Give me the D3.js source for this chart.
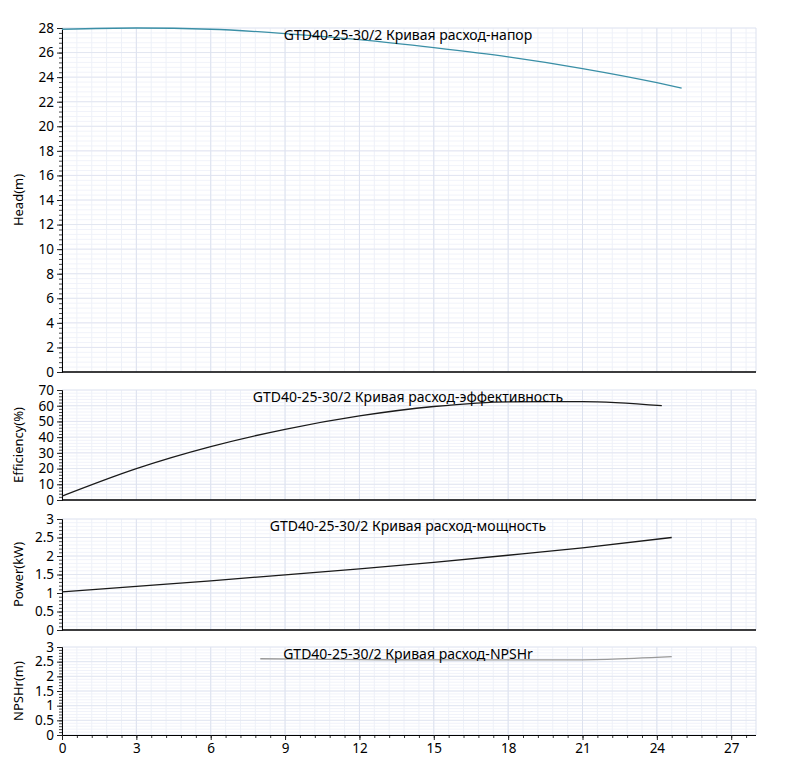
<!DOCTYPE html>
<html>
<head>
<meta charset="utf-8">
<script src="https://cdn.jsdelivr.net/npm/d3@7"></script>
<style>
  body { margin: 0; background: #fff; }
  svg { display: block; font-family: "Noto Sans", "Open Sans", sans-serif; }
</style>
</head>
<body>
<svg id="chart" width="804" height="760"></svg>
<script>
// flow values (m3/h) and curve readings
const headFlow = [0, 3, 6, 9, 12, 15, 18, 21, 24, 25];
const headVals = [27.9, 28.0, 27.9, 27.55, 27.05, 26.4, 25.65, 24.7, 23.55, 23.1];

const effFlow = [0, 3, 6, 9, 12, 15, 18, 21, 24.2];
const effVals = [2.5, 20, 34, 45, 53.5, 59.5, 62.5, 62.6, 60];

const powFlow = [0, 3, 6, 9, 12, 15, 18, 21, 24.6];
const powVals = [1.03, 1.18, 1.33, 1.49, 1.65, 1.83, 2.02, 2.22, 2.5];

const npshFlow = [8, 12, 16, 20, 22, 24.6];
const npshVals = [2.6, 2.57, 2.56, 2.56, 2.58, 2.67];

const xTicks = [0, 3, 6, 9, 12, 15, 18, 21, 24, 27];
const model = "GTD40-25-30/2";

var svg = d3.select("#chart");
var left = 62, right = 756;

var x = d3.scaleLinear().domain([0, 28]).range([left, right]);
var xMinor = d3.range(0, 47).map(i => i * 0.6);

// one entry per stacked panel
var panels = [
  {label: "Head(m)", title: model + " Кривая расход-напор", top: 28, bottom: 372,
   max: 28, step: 2, sub: 5, fmt: d3.format("d"), xs: headFlow, ys: headVals, color: "#3a8fa6"},
  {label: "Efficiency(%)", title: model + " Кривая расход-эффективность", top: 390, bottom: 500,
   max: 70, step: 10, sub: 5, fmt: d3.format("d"), xs: effFlow, ys: effVals, color: "#1a1a1a"},
  {label: "Power(kW)", title: model + " Кривая расход-мощность", top: 519, bottom: 630,
   max: 3, step: 0.5, sub: 5, fmt: d => String(d), xs: powFlow, ys: powVals, color: "#1a1a1a"},
  {label: "NPSHr(m)", title: model + " Кривая расход-NPSHr", top: 647, bottom: 735,
   max: 3, step: 0.5, sub: 5, fmt: d => String(d), xs: npshFlow, ys: npshVals, color: "#999999"}
];

panels.forEach(function(p, idx) {
  var y = d3.scaleLinear().domain([0, p.max]).range([p.bottom, p.top]);
  var major = d3.range(0, p.max + p.step / 2, p.step);
  var n = Math.round(p.max / p.step * p.sub);
  var minor = d3.range(0, n + 1).map(i => i * p.step / p.sub);
  var g = svg.append("g");

  // minor grid
  g.selectAll(".hmin").data(minor).join("line")
    .attr("x1", left).attr("x2", right)
    .attr("y1", d => y(d)).attr("y2", d => y(d))
    .attr("stroke", "#f1f3fa").attr("stroke-width", 1);
  g.selectAll(".vmin").data(xMinor).join("line")
    .attr("x1", d => x(d)).attr("x2", d => x(d))
    .attr("y1", p.top).attr("y2", p.bottom)
    .attr("stroke", "#eef1f8").attr("stroke-width", 1);
  // major grid
  g.selectAll(".hmaj").data(major).join("line")
    .attr("x1", left).attr("x2", right)
    .attr("y1", d => y(d)).attr("y2", d => y(d))
    .attr("stroke", "#e2e6f1").attr("stroke-width", 1);
  g.selectAll(".vmaj").data(xTicks).join("line")
    .attr("x1", d => x(d)).attr("x2", d => x(d))
    .attr("y1", p.top).attr("y2", p.bottom)
    .attr("stroke", "#dde2ef").attr("stroke-width", 1);
  g.append("line")
    .attr("x1", right).attr("x2", right).attr("y1", p.top).attr("y2", p.bottom)
    .attr("stroke", "#dde2ef");

  // left axis: minor ticks then labelled major ticks
  g.append("g").attr("transform", `translate(${left},0)`)
    .call(d3.axisLeft(y).tickValues(minor).tickSize(3).tickFormat(""))
    .call(a => a.select(".domain").remove())
    .call(a => a.selectAll("line").attr("stroke", "#444"));
  g.append("g").attr("transform", `translate(${left},0)`)
    .call(d3.axisLeft(y).tickValues(major).tickSize(5).tickPadding(3).tickFormat(p.fmt))
    .call(a => a.select(".domain").attr("stroke", "#000"))
    .call(a => a.selectAll("line").attr("stroke", "#222"))
    .call(a => a.selectAll("text").attr("font-size", 13.5).attr("fill", "#000")
      .attr("font-family", "'Noto Sans', sans-serif"));

  // bottom line; tick labels only on the last panel
  if (idx === panels.length - 1) {
    g.append("g").attr("transform", `translate(0,${p.bottom})`)
      .call(d3.axisBottom(x).tickValues(xMinor).tickSize(3).tickFormat(""))
      .call(a => a.select(".domain").remove())
      .call(a => a.selectAll("line").attr("stroke", "#333"));
    g.append("g").attr("transform", `translate(0,${p.bottom})`)
      .call(d3.axisBottom(x).tickValues(xTicks).tickSize(5).tickPadding(3).tickFormat(d3.format("d")))
      .call(a => a.select(".domain").attr("stroke", "#000").attr("d", `M${left},0.5H${right}`))
      .call(a => a.selectAll("line").attr("stroke", "#222"))
      .call(a => a.selectAll("text").attr("font-size", 13.5).attr("fill", "#000")
        .attr("font-family", "'Noto Sans', sans-serif"));
  } else {
    g.append("line")
      .attr("x1", left).attr("x2", right).attr("y1", p.bottom).attr("y2", p.bottom)
      .attr("stroke", "#000").attr("stroke-width", 1.5);
  }

  // curve
  var line = d3.line().x(d => x(d[0])).y(d => y(d[1])).curve(d3.curveMonotoneX);
  g.append("path")
    .datum(d3.zip(p.xs, p.ys))
    .attr("d", line)
    .attr("fill", "none")
    .attr("stroke", p.color)
    .attr("stroke-width", 1.3);

  // panel title
  g.append("text")
    .attr("x", (left + right) / 2 - 1).attr("y", p.top + 12)
    .attr("text-anchor", "middle")
    .attr("font-size", 14).attr("fill", "#000")
    .text(p.title);

  // y-axis label
  g.append("text")
    .attr("transform", `translate(18,${(p.top + p.bottom) / 2}) rotate(-90)`)
    .attr("text-anchor", "middle").attr("dy", "0.35em")
    .attr("font-size", 13).attr("fill", "#000")
    .text(p.label);
});
</script>
</body>
</html>
